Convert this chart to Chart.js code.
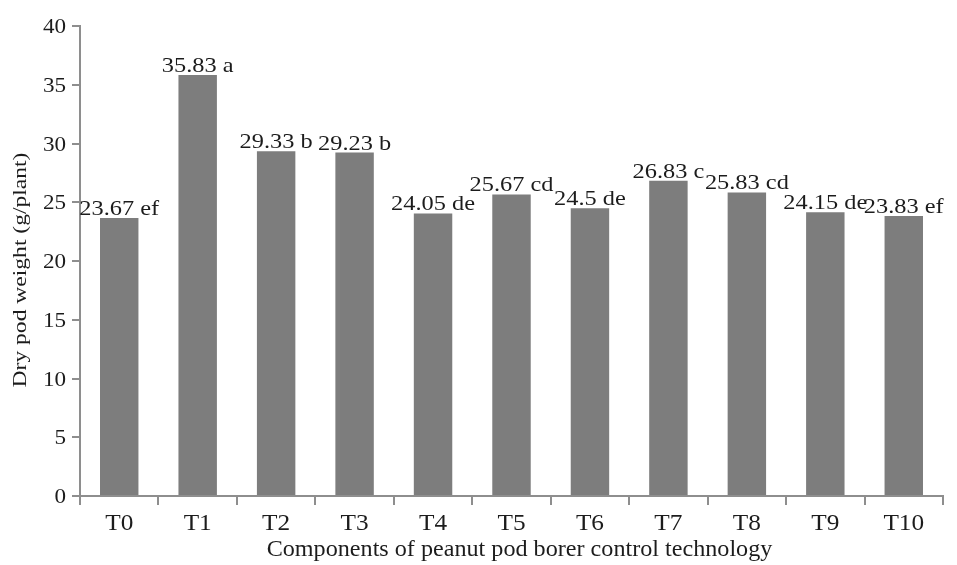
<!DOCTYPE html>
<html>
<head>
<meta charset="utf-8">
<title>Dry pod weight by treatment</title>
<script src="https://cdn.jsdelivr.net/npm/chart.js@4.4.1/dist/chart.umd.min.js"></script>
<style>
  html, body { margin: 0; padding: 0; background: #ffffff; }
  #wrap { width: 957px; height: 565px; }
</style>
</head>
<body>
<div id="wrap"><canvas id="c" width="957" height="565"></canvas></div>
<script>
// Treatments (components of the control technology)
const categories = ['T0', 'T1', 'T2', 'T3', 'T4', 'T5', 'T6', 'T7', 'T8', 'T9', 'T10'];
// Dry pod weight, g per plant
const podWeight = [23.67, 35.83, 29.33, 29.23, 24.05, 25.67, 24.5, 26.83, 25.83, 24.15, 23.83];
// Significance letters shown after each value
const significance = ['ef', 'a', 'b', 'b', 'de', 'cd', 'de', 'c', 'cd', 'de', 'ef'];
// Value axis ticks
const yTicks = [0, 5, 10, 15, 20, 25, 30, 35, 40];

const xTitle = 'Components of peanut pod borer control technology';
const yTitle = 'Dry pod weight (g/plant)';

const AXIS_GREY = '#8e8e8e';
const TEXT = '#1c1c1c';
const FAMILY = '"Liberation Serif", "Times New Roman", serif';

// Draws a line of text with a horizontal stretch (wide serif look).
function wideText(ctx, text, x, y, size, sx, align, baseline, rotate) {
  ctx.save();
  ctx.translate(x, y);
  if (rotate) ctx.rotate(-Math.PI / 2);
  ctx.scale(sx, 1);
  ctx.font = size + 'px ' + FAMILY;
  ctx.fillStyle = TEXT;
  ctx.textAlign = align;
  ctx.textBaseline = baseline;
  ctx.fillText(text, 0, 0);
  ctx.restore();
}

const textLayer = {
  id: 'textLayer',
  afterDraw(chart) {
    const ctx = chart.ctx;
    const xs = chart.scales.x;
    const ys = chart.scales.y;

    // value axis tick labels
    yTicks.forEach(v => {
      wideText(ctx, String(v), 66, ys.getPixelForValue(v) + 7, 21, 1.1, 'right', 'alphabetic');
    });

    // category tick labels
    categories.forEach((c, i) => {
      wideText(ctx, c, xs.getPixelForValue(i), 530, 23, 1.1, 'center', 'alphabetic');
    });

    // value + letter above each bar
    const meta = chart.getDatasetMeta(0);
    meta.data.forEach((bar, i) => {
      const label = podWeight[i] + ' ' + significance[i];
      wideText(ctx, label, bar.x, bar.y - 3, 21, 1.16, 'center', 'alphabetic');
    });

    // axis titles
    const area = chart.chartArea;
    wideText(ctx, xTitle, (area.left + area.right) / 2 + 8, 556, 23, 1.05, 'center', 'alphabetic');
    wideText(ctx, yTitle, 26, 270, 19, 1.24, 'center', 'alphabetic', true);
  }
};

new Chart(document.getElementById('c'), {
  type: 'bar',
  data: {
    labels: categories,
    datasets: [{
      data: podWeight,
      backgroundColor: '#7d7d7d',
      borderWidth: 0,
      barPercentage: 0.49,
      categoryPercentage: 1.0
    }]
  },
  options: {
    responsive: false,
    animation: false,
    devicePixelRatio: 1,
    layout: { padding: { top: 26, right: 14, left: 0, bottom: 0 } },
    plugins: {
      legend: { display: false },
      tooltip: { enabled: false }
    },
    scales: {
      x: {
        offset: true,
        grid: {
          display: true,
          offset: true,
          drawOnChartArea: false,
          drawTicks: true,
          tickLength: 9,
          color: AXIS_GREY,
          lineWidth: 2
        },
        border: { display: true, color: AXIS_GREY, width: 2 },
        ticks: { color: 'rgba(0,0,0,0)', font: { size: 22, family: FAMILY } },
        afterFit(scale) { scale.height = 69; }
      },
      y: {
        min: 0,
        max: 40,
        ticks: { stepSize: 5, color: 'rgba(0,0,0,0)', font: { size: 20, family: FAMILY } },
        grid: {
          display: true,
          drawOnChartArea: false,
          drawTicks: true,
          tickLength: 8,
          color: AXIS_GREY,
          lineWidth: 2
        },
        border: { display: true, color: AXIS_GREY, width: 2 },
        afterFit(scale) { scale.width = 80; }
      }
    }
  },
  plugins: [textLayer]
});
</script>
</body>
</html>
